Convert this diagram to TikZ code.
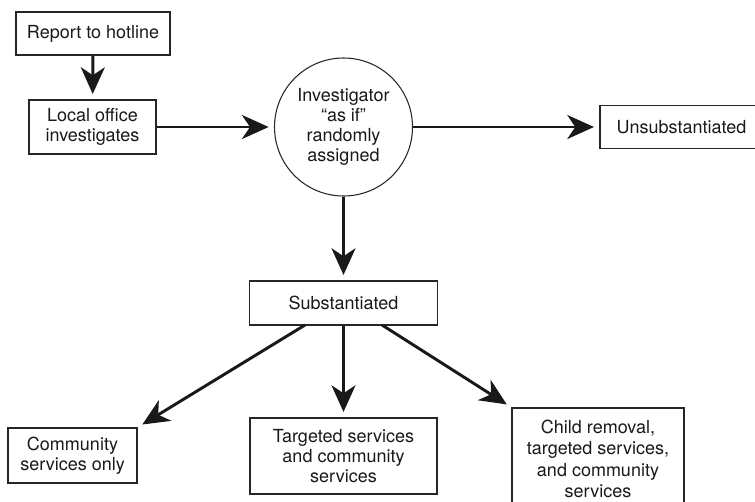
\documentclass[tikz,border=0pt]{standalone}
\usepackage{fontspec}
\setmainfont{TeX Gyre Heros}
\usetikzlibrary{arrows.meta,calc}
\begin{document}
\begin{tikzpicture}[x=0.75pt,y=-0.75pt,
  txt/.style={align=center, font=\fontsize{13.5}{15}\selectfont, text=black!90},
  box/.style={txt, draw=black!85, line width=1.1pt, rectangle, inner sep=0pt},
  circ/.style={txt, draw=black!85, line width=0.8pt, circle, inner sep=0pt, minimum size=103.5pt},
  arr/.style={draw=black!90, line width=2.2pt, -{Stealth[length=20pt,width=18pt,inset=6pt]}, shorten >=4pt}]
\useasboundingbox (0,0) rectangle (755,501);

\node[box, minimum width=115.5pt, minimum height=32.25pt] (report) at (93,33.5) {Report to hotline};
\node[box, minimum width=95.25pt, minimum height=40.5pt] (local) at (92.5,127) {Local office\\investigates};
\node[circ] (inv) at (343.5,127) {Investigator\\“as if”\\randomly\\assigned};
\node[box, minimum width=122.25pt, minimum height=32.25pt] (unsub) at (681.5,127) {Unsubstantiated};
\node[box, minimum width=141pt, minimum height=33pt] (sub) at (343.5,303) {Substantiated};
\node[box, minimum width=96.75pt, minimum height=41.25pt] (comm) at (72.5,455.5) {Community\\services only};
\node[box, minimum width=140.25pt, minimum height=57pt] (targ) at (343.5,456) {Targeted services\\and community\\services};
\node[box, minimum width=129pt, minimum height=76.5pt, font=\fontsize{13.5}{16}\selectfont] (child) at (598,459) {Child removal,\\targeted services,\\and community\\services};

\coordinate (sl) at (305,325);
\coordinate (sr) at (382,325);

\draw[arr] (report) -- (local);
\draw[arr] (local) -- (inv);
\draw[arr] (inv) -- (unsub);
\draw[arr] (inv) -- (sub);
\draw[arr] (sub) -- (targ);
\draw[arr] (sl) -- (comm.north east);
\draw[arr] (sr) -- (child.north west);
\end{tikzpicture}
\end{document}
